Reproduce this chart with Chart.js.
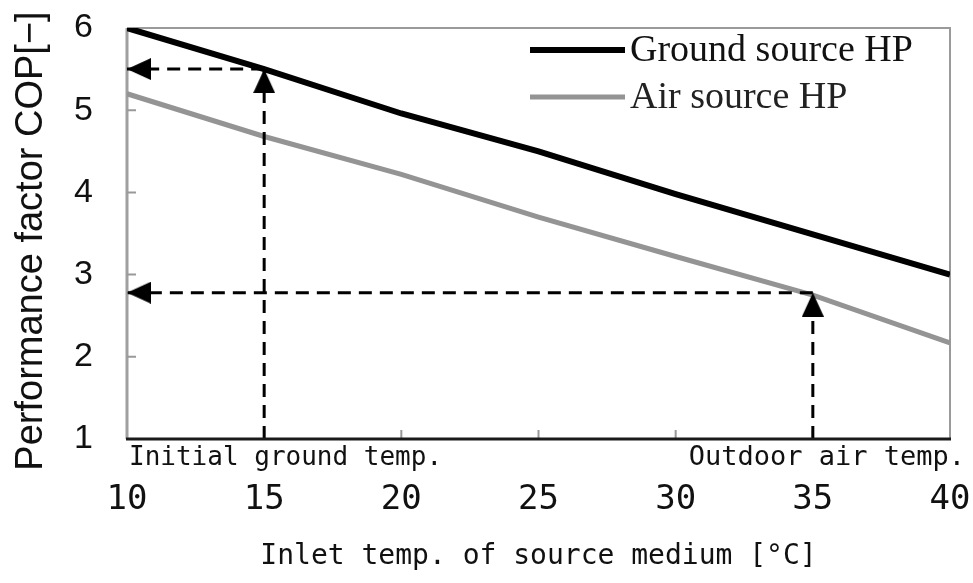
<!DOCTYPE html>
<html>
<head>
<meta charset="utf-8">
<script src="https://cdn.jsdelivr.net/npm/chart.js@4/dist/chart.umd.min.js"></script>
<style>
    html, body { margin: 0; padding: 0; background: #fff; }
    #wrap { width: 973px; height: 583px; }
</style>
</head>
<body>
<div id="wrap"><canvas id="myChart" width="973" height="583"></canvas></div>
<script>
// values
const inletTemps = [10, 15, 20, 25, 30, 35, 40];
const groundCop = [6.0, 5.5, 4.96, 4.5, 3.98, 3.49, 3.0];
const airCop = [5.2, 4.68, 4.22, 3.7, 3.22, 2.75, 2.17];
const seriesNames = ['Ground source HP', 'Air source HP'];

// dashed guides: [temp, cop] where the arrows point
const guideTemps = [15, 35];
const guideCops = [5.5, 2.78];
const guideNotes = ['Initial ground temp.', 'Outdoor air temp.'];

const xTicks = [10, 15, 20, 25, 30, 35, 40];
const yTicks = [1, 2, 3, 4, 5, 6];

// wanted plot box in the 973x583 picture
const plotBox = { left: 127, top: 28, right: 950, bottom: 439 };

function toPoints(xs, ys) {
    return xs.map((x, i) => ({ x: x, y: ys[i] }));
}

// arrow head with its tip in the middle of the image, pointing up
function arrowHead(w, h) {
    let c = document.createElement('canvas');
    c.width = w;
    c.height = h * 2;
    let g = c.getContext('2d');
    g.fillStyle = '#000';
    g.beginPath();
    g.moveTo(w / 2, h);
    g.lineTo(w, h * 2);
    g.lineTo(0, h * 2);
    g.closePath();
    g.fill();
    return c;
}
const arrow = arrowHead(22, 24);

function guideSet(from, to, rotation) {
    return {
        label: 'guide',
        data: [from, to],
        borderColor: '#000',
        borderWidth: 3,
        borderDash: [13, 8],
        pointStyle: arrow,
        pointRadius: [0, 12],
        pointRotation: rotation,
        clip: false,
        order: 0
    };
}

let datasets = [
    {
        label: seriesNames[0],
        data: toPoints(inletTemps, groundCop),
        borderColor: '#000',
        borderWidth: 6,
        pointRadius: 0,
        tension: 0,
        order: 1
    },
    {
        label: seriesNames[1],
        data: toPoints(inletTemps, airCop),
        borderColor: '#949494',
        borderWidth: 5,
        pointRadius: 0,
        tension: 0,
        order: 2
    }
];
guideTemps.forEach((t, i) => {
    datasets.push(guideSet({ x: t, y: guideCops[i] }, { x: 10, y: guideCops[i] }, -90));
    datasets.push(guideSet({ x: t, y: 1 }, { x: t, y: guideCops[i] }, 0));
});

// frame, inner ticks, legend and notes
const decorations = {
    id: 'decorations',
    beforeDatasetsDraw(chart) {
        let ctx = chart.ctx;
        let a = chart.chartArea;
        let xs = chart.scales.x;
        let ys = chart.scales.y;
        ctx.save();
        ctx.lineCap = 'butt';
        // top and right
        ctx.strokeStyle = '#9a9a9a';
        ctx.lineWidth = 2;
        ctx.beginPath();
        ctx.moveTo(a.left, a.top);
        ctx.lineTo(a.right, a.top);
        ctx.lineTo(a.right, a.bottom);
        ctx.stroke();
        // left
        ctx.strokeStyle = '#a0a0a0';
        ctx.lineWidth = 3;
        ctx.beginPath();
        ctx.moveTo(a.left, a.top);
        ctx.lineTo(a.left, a.bottom);
        ctx.stroke();
        // inner ticks
        ctx.strokeStyle = '#999';
        ctx.lineWidth = 2;
        ctx.beginPath();
        xTicks.slice(1, -1).forEach(v => {
            let px = xs.getPixelForValue(v);
            ctx.moveTo(px, a.bottom);
            ctx.lineTo(px, a.bottom - 9);
        });
        yTicks.slice(1, -1).forEach(v => {
            let py = ys.getPixelForValue(v);
            ctx.moveTo(a.left, py);
            ctx.lineTo(a.left + 9, py);
        });
        ctx.stroke();
        ctx.restore();
    },
    afterDatasetsDraw(chart) {
        let ctx = chart.ctx;
        let a = chart.chartArea;
        ctx.save();
        // bottom axis line
        ctx.strokeStyle = '#1a1a1a';
        ctx.lineWidth = 3;
        ctx.beginPath();
        ctx.moveTo(a.left - 1, a.bottom);
        ctx.lineTo(a.right + 1, a.bottom);
        ctx.stroke();

        // legend
        ctx.font = '38px "Liberation Serif"';
        ctx.textBaseline = 'middle';
        ctx.textAlign = 'left';
        for (let i = 0; i < 2; i++) {
            let ds = chart.data.datasets[i];
            let y = a.top + 22 + i * 47;
            ctx.strokeStyle = ds.borderColor;
            ctx.lineWidth = ds.borderWidth;
            ctx.beginPath();
            ctx.moveTo(a.left + 403, y);
            ctx.lineTo(a.left + 498, y);
            ctx.stroke();
            ctx.fillStyle = i === 0 ? '#111' : '#222';
            ctx.fillText(ds.label, a.left + 503, y + 1);
        }

        // notes under the axis
        ctx.fillStyle = '#111';
        ctx.textBaseline = 'alphabetic';
        ctx.font = '26px "DejaVu Sans Mono"';
        ctx.textAlign = 'left';
        ctx.fillText(guideNotes[0], a.left + 2, a.bottom + 26);
        ctx.font = '27px "DejaVu Sans Mono"';
        ctx.textAlign = 'right';
        ctx.fillText(guideNotes[1], a.right + 15, a.bottom + 26);

        // y title
        ctx.translate(42, 241);
        ctx.rotate(-Math.PI / 2);
        ctx.font = '38px "Liberation Sans"';
        ctx.textAlign = 'center';
        ctx.fillText('Performance factor COP[\u2212]', 0, 0);
        ctx.restore();
    }
};

let pad = { top: plotBox.top, right: 973 - plotBox.right, left: 0, bottom: 0 };
let xAxisHeight = 583 - plotBox.bottom;

let chart = new Chart(document.getElementById('myChart').getContext('2d'), {
    type: 'line',
    data: { datasets: datasets },
    options: {
        responsive: false,
        animation: false,
        devicePixelRatio: 1,
        layout: { padding: pad, autoPadding: false },
        plugins: {
            legend: { display: false },
            tooltip: { enabled: false }
        },
        scales: {
            x: {
                type: 'linear',
                min: xTicks[0],
                max: xTicks[xTicks.length - 1],
                afterFit: (scale) => {
                    scale.height = xAxisHeight;
                    scale.paddingLeft = 0;
                    scale.paddingRight = 0;
                },
                afterBuildTicks: (scale) => { scale.ticks = xTicks.map(v => ({ value: v })); },
                grid: { display: false, drawTicks: false },
                border: { display: false },
                ticks: {
                    padding: 41,
                    color: '#111',
                    maxRotation: 0,
                    font: { family: '"DejaVu Sans Mono"', size: 34 }
                },
                title: {
                    display: true,
                    text: 'Inlet temp. of source medium [\u00b0C]',
                    color: '#111',
                    font: { family: '"DejaVu Sans Mono"', size: 28 },
                    padding: { top: 0, bottom: 9 }
                }
            },
            y: {
                min: yTicks[0],
                max: yTicks[yTicks.length - 1],
                afterFit: (scale) => {
                    scale.width = plotBox.left;
                    scale.paddingTop = 0;
                    scale.paddingBottom = 0;
                },
                afterBuildTicks: (scale) => { scale.ticks = yTicks.map(v => ({ value: v })); },
                grid: { display: false, drawTicks: false },
                border: { display: false },
                ticks: {
                    padding: 34,
                    color: '#111',
                    font: { family: '"Liberation Sans"', size: 34 }
                }
            }
        }
    },
    plugins: [decorations]
});

// nudge the layout until the plot box sits where it does in the picture
for (let k = 0; k < 4; k++) {
    let a = chart.chartArea;
    let dTop = plotBox.top - a.top;
    let dRight = a.right - plotBox.right;
    let dBottom = a.bottom - plotBox.bottom;
    if (Math.abs(dTop) < 0.5 && Math.abs(dRight) < 0.5 && Math.abs(dBottom) < 0.5) break;
    pad.top = Math.max(0, pad.top + dTop);
    pad.right = Math.max(0, pad.right + dRight);
    xAxisHeight += dBottom;
    chart.options.layout.padding = pad;
    chart.update();
}
</script>
</body>
</html>
